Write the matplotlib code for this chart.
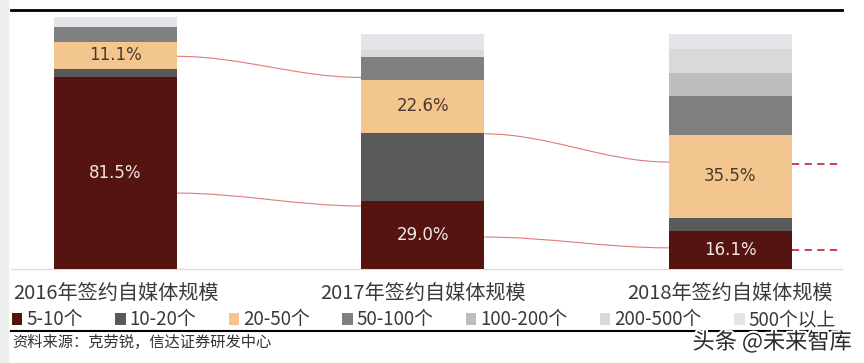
import numpy as np
import matplotlib.pyplot as plt
import matplotlib.patheffects as pe
from matplotlib.path import Path
from matplotlib.patches import PathPatch, Rectangle

CJK = ["Noto Sans CJK SC", "DejaVu Sans"]

categories = ["2016年签约自媒体规模", "2017年签约自媒体规模", "2018年签约自媒体规模"]
series_names = ["5-10个", "10-20个", "20-50个", "50-100个", "100-200个", "200-500个", "500个以上"]
s_5_10 = [81.5, 29.0, 16.1]
s_10_20 = [3.8, 28.9, 5.6]
s_20_50 = [11.1, 22.6, 35.5]
s_50_100 = [6.4, 9.8, 16.2]
s_100_200 = [0.0, 0.0, 10.2]
s_200_500 = [0.0, 3.0, 9.8]
s_500_up = [4.3, 6.7, 6.6]
colors = ["#561410", "#595959", "#f4c68f", "#7f7f7f", "#bdbdbd", "#d9d9d9", "#e3e5e9"]

# connector levels (same % units as the bars)
upper_links = [90.5, 81.5, 57.5, 45.5]
lower_links = [32.3, 26.8, 13.6, 9.0]
dashed_levels = [44.5, 8.1]

W, H = 864, 363
fig = plt.figure(figsize=(W / 100, H / 100), dpi=100)
fig.patches.append(Rectangle((0, 0), 8 / W, 1, transform=fig.transFigure,
                             color="#efefef", zorder=0))
ax = fig.add_axes([11 / W, (H - 269) / H, 831 / W, 259 / H])

x = np.arange(len(categories))
width = 0.4
all_series = [s_5_10, s_10_20, s_20_50, s_50_100, s_100_200, s_200_500, s_500_up]
bottom = np.zeros(len(categories))
handles = []
for name, vals, c in zip(series_names, all_series, colors):
    vals = np.array(vals)
    b = ax.bar(x, vals, width, bottom=bottom, color=c, label=name, zorder=3)
    handles.append(b)
    if name == "5-10个":
        for xi, v, bt in zip(x, vals, bottom):
            ax.text(xi, bt + v / 2, f"{v:.1f}%", ha="center", va="center",
                    fontsize=12, color="#f2e6e6", zorder=5)
    if name == "20-50个":
        for xi, v, bt in zip(x, vals, bottom):
            ax.text(xi, bt + v / 2, f"{v:.1f}%", ha="center", va="center",
                    fontsize=12, color="#4a3a2a", zorder=5)
    bottom = bottom + vals


def link(x0, y0, x1, y1):
    d = (x1 - x0) * 0.35
    verts = [(x0, y0), (x0 + d, y0), (x1 - d, y1), (x1, y1)]
    codes = [Path.MOVETO, Path.CURVE4, Path.CURVE4, Path.CURVE4]
    ax.add_patch(PathPatch(Path(verts, codes), fc="none", ec="#e07a7a",
                           lw=0.8, zorder=2))


for lv in (upper_links, lower_links):
    link(x[0] + width / 2, lv[0], x[1] - width / 2, lv[1])
    link(x[1] + width / 2, lv[2], x[2] - width / 2, lv[3])

xmin, xmax = -0.34, 2.363
for lv in dashed_levels:
    ax.plot([x[2] + width / 2, xmax], [lv, lv], color="#c8323c", lw=1.3,
            ls=(0, (4, 3)), zorder=2)

ax.set_xlim(xmin, xmax)
ax.set_ylim(0, 110.2)
for s in ["left", "right"]:
    ax.spines[s].set_visible(False)
ax.spines["top"].set_linewidth(2.0)
ax.spines["top"].set_color("black")
ax.spines["bottom"].set_color("#dddddd")
ax.spines["bottom"].set_linewidth(1.0)
ax.set_xticks([])
ax.set_yticks([])

for xi, lab in zip(x, categories):
    ax.text(xi, -24 / 259, lab, transform=ax.get_xaxis_transform(),
            ha="center", va="center", fontsize=14.5, color="#3a3a3a", family=CJK)

leg = fig.legend(handles=handles, loc="center left", bbox_to_anchor=(12 / W, (H - 320) / H),
                 ncol=7, frameon=False, handlelength=0.55, handleheight=0.55,
                 handletextpad=0.2, columnspacing=1.75, borderpad=0, borderaxespad=0,
                 prop={"family": CJK, "size": 13.5})
for t in leg.get_texts():
    t.set_color("#3a3a3a")

fig.add_artist(plt.Line2D([11 / W, 842 / W], [(H - 331) / H] * 2, color="black", lw=1.5))
fig.text(12 / W, (H - 342) / H, "资料来源：克劳锐，信达证券研发中心", fontsize=11,
         color="#333333", va="center", ha="left", family=CJK)
fig.text(852 / W, (H - 342) / H, "头条 @未来智库", fontsize=16, color="#2a2a2a",
         va="center", ha="right", family=CJK,
         path_effects=[pe.withStroke(linewidth=3, foreground="white")])

fig.savefig("out.png", dpi=100)
